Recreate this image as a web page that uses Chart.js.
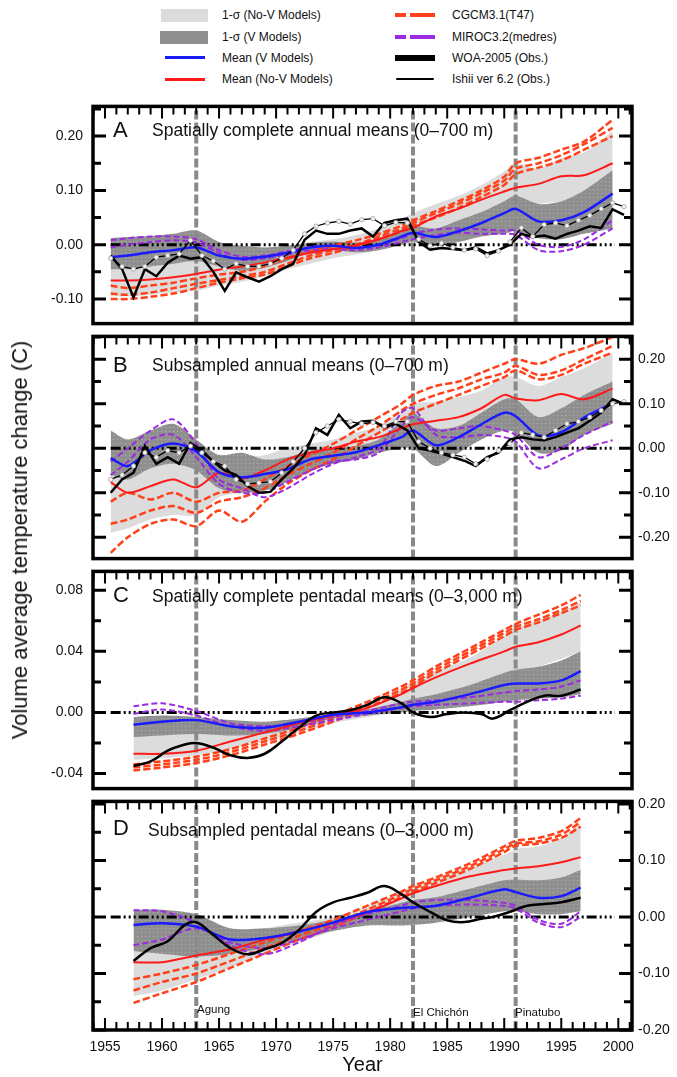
<!DOCTYPE html>
<html>
<head>
<meta charset="utf-8">
<script src="https://cdn.jsdelivr.net/npm/chart.js@4.4.1/dist/chart.umd.min.js"></script>
<style>
  body { margin: 0; background: #fff; }
  #page { position: relative; width: 677px; height: 1077px; overflow: hidden;
          font-family: "Liberation Sans", Arial, sans-serif; color: #111; }
  canvas { position: absolute; left: 0; }
  .lab { position: absolute; transform: translateY(-50%); line-height: 1; white-space: nowrap; font-size: 17.5px; }
  .big { font-size: 22px; }
  .lt { position: absolute; transform: translateY(-50%); line-height: 1; white-space: nowrap; font-size: 12px; }
  .sw { position: absolute; }
  .volc { position: absolute; font-size: 11.5px; line-height: 1; white-space: nowrap; transform: translateY(-50%); }
  #ytitle { position: absolute; left: 20px; top: 540px; font-size: 22px; white-space: nowrap;
            transform: translate(-50%, -50%) rotate(-90deg); }
</style>
</head>
<body>
<div id="page">
  <!-- legend -->
  <div class="sw" style="left:161px;top:9px;width:47px;height:13px;background:#dcdcdc"></div>
  <div class="lt" style="left:222px;top:15px">1-σ (No-V Models)</div>
  <div class="sw" style="left:160px;top:31px;width:48px;height:13px;background:#8f8f8f"></div>
  <div class="lt" style="left:222px;top:37px">1-σ (V Models)</div>
  <div class="sw" style="left:165px;top:56px;width:40px;height:3px;background:#1a1aff"></div>
  <div class="lt" style="left:222px;top:58px">Mean (V Models)</div>
  <div class="sw" style="left:165px;top:78px;width:40px;height:3px;background:#ff1a1a"></div>
  <div class="lt" style="left:222px;top:79px">Mean (No-V Models)</div>

  <div class="sw" style="left:395px;top:13px;width:11px;height:4px;background:#ff4019"></div>
  <div class="sw" style="left:410px;top:13px;width:25px;height:4px;background:#ff4019"></div>
  <div class="lt" style="left:452px;top:15px">CGCM3.1(T47)</div>
  <div class="sw" style="left:395px;top:35px;width:11px;height:4px;background:#9a2be0"></div>
  <div class="sw" style="left:410px;top:35px;width:25px;height:4px;background:#9a2be0"></div>
  <div class="lt" style="left:452px;top:37px">MIROC3.2(medres)</div>
  <div class="sw" style="left:395px;top:55px;width:40px;height:6px;background:#000"></div>
  <div class="lt" style="left:452px;top:58px">WOA-2005 (Obs.)</div>
  <div class="sw" style="left:396px;top:78px;width:38px;height:2px;background:#000;border-radius:2px"></div>
  <div class="lt" style="left:452px;top:79px">Ishii ver 6.2 (Obs.)</div>

  <canvas id="chartA" width="677" height="254" style="top:88px"></canvas>
  <canvas id="chartB" width="677" height="251" style="top:322px"></canvas>
  <canvas id="chartC" width="677" height="254" style="top:553px"></canvas>
  <canvas id="chartD" width="677" height="290" style="top:787px"></canvas>

  <div class="lab big" style="left:113px;top:130px">A</div>
  <div class="lab" style="left:152px;top:131px">Spatially complete annual means (0–700 m)</div>
  <div class="lab big" style="left:113px;top:365px">B</div>
  <div class="lab" style="left:152px;top:366px">Subsampled annual means (0–700 m)</div>
  <div class="lab big" style="left:113px;top:595px">C</div>
  <div class="lab" style="left:152px;top:597px">Spatially complete pentadal means (0–3,000 m)</div>
  <div class="lab big" style="left:113px;top:828px">D</div>
  <div class="lab" style="left:148px;top:831px">Subsampled pentadal means (0–3,000 m)</div>

  <div class="volc" style="left:197px;top:1010px">Agung</div>
  <div class="volc" style="left:413px;top:1013px">El Chichón</div>
  <div class="volc" style="left:515px;top:1013px">Pinatubo</div>

  <div id="ytitle">Volume average temperature change (C)</div>
</div>

<script>
// ---- shared x grids ----
const YEARS_ANNUAL = [1955.5, 1957, 1959, 1961, 1963, 1965, 1967, 1969, 1971, 1973, 1975, 1977,
  1979, 1981, 1982, 1984, 1986, 1988, 1990, 1991, 1993, 1995, 1997, 1999.5];
const YEARS_OBS_ANNUAL = [1955.5, 1956.5, 1957.5, 1958.5, 1959.5, 1960.5, 1961.5, 1962.5, 1963.5,
  1964.5, 1965.5, 1966.5, 1967.5, 1968.5, 1969.5, 1970.5, 1971.5, 1972.5, 1973.5, 1974.5, 1975.5,
  1976.5, 1977.5, 1978.5, 1979.5, 1980.5, 1981.5, 1982.5, 1983.5, 1984.5, 1985.5, 1986.5, 1987.5,
  1988.5, 1989.5, 1990.5, 1991.5, 1992.5, 1993.5, 1994.5, 1995.5, 1996.5, 1997.5, 1998.5, 1999.5, 2000.5];
const YEARS_PENTAD = [1957.5, 1960, 1963, 1966, 1969, 1972, 1975, 1978, 1981, 1982, 1984, 1987,
  1990, 1991, 1993, 1995, 1996.7];
const YEARS_PENTAD_OBS = [1957.5, 1959, 1960.5, 1962, 1963, 1964.5, 1966, 1967.5, 1969, 1970.5,
  1972, 1973.5, 1975, 1976.5, 1978, 1979.5, 1981, 1982, 1983.5, 1985, 1986.5, 1988, 1989, 1990.5,
  1992, 1993.5, 1995, 1996.7];

// ---- tick labels ----
const YEAR_TICKS = [1955, 1960, 1965, 1970, 1975, 1980, 1985, 1990, 1995, 2000];
const TICKS_A = [-0.1, 0, 0.1, 0.2];
const TICKS_B = [-0.2, -0.1, 0, 0.1, 0.2];
const TICKS_C = [-0.04, 0, 0.04, 0.08];
const TICKS_D = [-0.2, -0.1, 0, 0.1, 0.2];

const VOLCANO_YEARS = [1963, 1982, 1991];
const ZERO_SPAN = [1955.5, 1999.7];

// ---- panel A: spatially complete annual, 0-700 m ----
const MEAN_V_A = [-0.023, -0.02, -0.014, -0.01, -0.005, -0.02, -0.026, -0.022, -0.015, -0.005, -0.002, -0.006,
  0.0, 0.015, 0.022, 0.014, 0.025, 0.04, 0.058, 0.066, 0.043, 0.045, 0.06, 0.094];
const MEAN_NOV_A = [-0.066, -0.066, -0.064, -0.06, -0.054, -0.046, -0.04, -0.033, -0.024, -0.015, -0.008, -0.001,
  0.01, 0.025, 0.031, 0.052, 0.066, 0.083, 0.098, 0.105, 0.112, 0.126, 0.128, 0.15];
const NOV_HI_A = [-0.025, -0.025, -0.022, -0.02, -0.015, -0.012, -0.01, -0.008, -0.003, 0.005, 0.01, 0.018,
  0.03, 0.048, 0.058, 0.075, 0.09, 0.11, 0.135, 0.15, 0.14, 0.16, 0.17, 0.21];
const NOV_LO_A = [-0.095, -0.095, -0.092, -0.088, -0.085, -0.075, -0.068, -0.058, -0.045, -0.035, -0.025, -0.018,
  -0.01, 0.0, 0.005, 0.025, 0.04, 0.055, 0.065, 0.07, 0.075, 0.08, 0.085, 0.09];
const V_HI_A = [0.012, 0.014, 0.016, 0.02, 0.026, 0.005, -0.002, -0.005, -0.002, 0.003, 0.006, 0.004,
  0.01, 0.028, 0.035, 0.03, 0.045, 0.06, 0.08, 0.09, 0.075, 0.08, 0.1, 0.137];
const V_LO_A = [-0.045, -0.045, -0.04, -0.035, -0.03, -0.04, -0.048, -0.042, -0.03, -0.015, -0.01, -0.014,
  -0.01, 0.0, 0.005, -0.002, 0.005, 0.015, 0.02, 0.025, 0.012, 0.01, 0.02, 0.03];
const CGCM_A1 = [-0.075, -0.08, -0.075, -0.07, -0.062, -0.055, -0.05, -0.04, -0.025, -0.012, -0.002, 0.008,
  0.02, 0.035, 0.045, 0.062, 0.08, 0.1, 0.125, 0.15, 0.16, 0.175, 0.19, 0.23];
const CGCM_A2 = [-0.09, -0.092, -0.088, -0.08, -0.072, -0.065, -0.058, -0.05, -0.035, -0.02, -0.01, 0.0,
  0.015, 0.03, 0.04, 0.058, 0.075, 0.095, 0.118, 0.14, 0.15, 0.165, 0.185, 0.215];
const CGCM_A3 = [-0.1, -0.1, -0.096, -0.09, -0.08, -0.07, -0.062, -0.055, -0.04, -0.025, -0.015, -0.003,
  0.01, 0.025, 0.035, 0.05, 0.068, 0.088, 0.11, 0.13, 0.142, 0.155, 0.175, 0.2];
const MIROC_A1 = [0.008, 0.012, 0.015, 0.015, 0.01, -0.01, -0.022, -0.02, -0.012, -0.004, -0.002, -0.006,
  0.0, 0.012, 0.02, 0.028, 0.03, 0.028, 0.026, 0.026, 0.0, -0.004, 0.01, 0.045];
const MIROC_A2 = [-0.005, 0.0, 0.005, 0.008, 0.004, -0.015, -0.028, -0.025, -0.018, -0.01, -0.008, -0.01,
  -0.005, 0.005, 0.01, 0.018, 0.022, 0.02, 0.02, 0.018, -0.01, -0.012, 0.0, 0.03];
const WOA_A = [-0.02, -0.045, -0.097, -0.045, -0.058, -0.033, -0.02, -0.026, -0.023, -0.05, -0.085, -0.051,
  -0.06, -0.068, -0.058, -0.045, -0.035, 0.009, 0.026, 0.02, 0.02, 0.026, 0.03, 0.015, 0.04, 0.045, 0.048,
  0.005, -0.009, -0.006, -0.008, -0.01, -0.005, -0.016, -0.01, 0.0, 0.02, 0.014, 0.017, 0.011, 0.02, 0.026,
  0.034, 0.031, 0.065, 0.055];
const ISHII_A = [-0.025, -0.04, -0.045, -0.04, -0.023, -0.02, -0.017, 0.008, -0.02, -0.03, -0.045, -0.035,
  -0.04, -0.04, -0.035, -0.025, -0.01, 0.02, 0.034, 0.04, 0.043, 0.038, 0.046, 0.048, 0.035, 0.041, 0.04,
  0.01, -0.002, 0.003, -0.005, -0.01, -0.008, -0.02, -0.012, 0.005, 0.031, 0.015, 0.037, 0.04, 0.035, 0.045,
  0.054, 0.066, 0.077, 0.07];

// ---- panel B: subsampled annual, 0-700 m ----
const MEAN_V_B = [-0.022, -0.04, -0.004, 0.011, -0.007, -0.054, -0.065, -0.058, -0.047, -0.025, -0.017, -0.009,
  0.007, 0.025, 0.04, 0.007, 0.025, 0.054, 0.08, 0.072, 0.029, 0.036, 0.069, 0.101];
const MEAN_NOV_B = [-0.076, -0.1, -0.085, -0.07, -0.088, -0.055, -0.068, -0.05, -0.025, -0.01, 0.0, 0.015,
  0.025, 0.045, 0.054, 0.062, 0.07, 0.09, 0.12, 0.112, 0.108, 0.122, 0.11, 0.134];
const NOV_HI_B = [-0.02, -0.03, -0.02, -0.01, -0.03, -0.015, -0.02, -0.015, 0.0, 0.01, 0.02, 0.035,
  0.05, 0.085, 0.1, 0.105, 0.115, 0.13, 0.16, 0.16, 0.14, 0.16, 0.18, 0.215];
const NOV_LO_B = [-0.19, -0.18, -0.16, -0.15, -0.15, -0.11, -0.1, -0.085, -0.06, -0.04, -0.03, -0.015,
  -0.005, 0.01, 0.015, 0.02, 0.03, 0.045, 0.06, 0.065, 0.06, 0.06, 0.06, 0.06];
const V_HI_B = [0.04, 0.02, 0.04, 0.055, 0.02, -0.015, -0.01, -0.025, -0.02, -0.005, 0.0, 0.005,
  0.02, 0.06, 0.08, 0.045, 0.05, 0.08, 0.11, 0.11, 0.07, 0.09, 0.12, 0.15];
const V_LO_B = [-0.06, -0.07, -0.045, -0.035, -0.05, -0.09, -0.1, -0.095, -0.075, -0.05, -0.035, -0.025,
  -0.01, 0.0, 0.0, -0.04, -0.01, 0.02, 0.04, 0.035, -0.01, -0.005, 0.03, 0.055];
const CGCM_B1 = [-0.12, -0.1, -0.115, -0.1, -0.12, -0.1, -0.095, -0.07, -0.04, -0.015, 0.01, 0.04,
  0.07, 0.1, 0.12, 0.14, 0.15, 0.17, 0.19, 0.2, 0.19, 0.21, 0.225, 0.25];
const CGCM_B2 = [-0.17, -0.16, -0.14, -0.13, -0.145, -0.12, -0.11, -0.09, -0.06, -0.035, -0.01, 0.02,
  0.05, 0.085, 0.1, 0.12, 0.135, 0.155, 0.17, 0.185, 0.165, 0.175, 0.2, 0.23];
const CGCM_B3 = [-0.235, -0.2, -0.17, -0.16, -0.175, -0.14, -0.165, -0.12, -0.08, -0.05, -0.025, 0.005,
  0.035, 0.065, 0.08, 0.1, 0.12, 0.14, 0.16, 0.175, 0.155, 0.165, 0.19, 0.215];
const MIROC_B1 = [-0.03, 0.0, 0.04, 0.065, 0.01, -0.07, -0.09, -0.11, -0.09, -0.06, -0.035, -0.02,
  0.0, 0.08, 0.09, 0.03, 0.025, 0.03, 0.025, 0.015, -0.045, -0.025, 0.0, 0.018];
const MIROC_B2 = [-0.06, -0.03, 0.02, 0.03, -0.02, -0.08, -0.1, -0.1, -0.075, -0.05, -0.03, -0.025,
  -0.01, 0.05, 0.07, 0.04, 0.045, 0.05, 0.04, 0.03, -0.02, 0.0, 0.03, 0.06];
const WOA_B = [-0.1, -0.07, -0.055, 0.005, -0.035, -0.02, -0.035, 0.012, -0.005, -0.03, -0.05, -0.06,
  -0.085, -0.1, -0.098, -0.07, -0.045, -0.015, 0.045, 0.03, 0.075, 0.045, 0.06, 0.062, 0.047, 0.055, 0.04,
  0.0, -0.005, -0.012, -0.02, -0.028, -0.04, -0.02, -0.01, 0.02, 0.025, 0.02, 0.018, 0.025, 0.035, 0.045,
  0.062, 0.08, 0.11, 0.1];
const ISHII_B = [-0.07, -0.06, -0.04, -0.01, -0.02, -0.005, -0.01, 0.005, -0.01, -0.03, -0.04, -0.07,
  -0.08, -0.078, -0.075, -0.055, -0.03, 0.0, 0.035, 0.05, 0.065, 0.06, 0.055, 0.058, 0.05, 0.06, 0.06,
  0.015, 0.0, -0.01, -0.015, -0.02, -0.035, -0.025, -0.005, 0.01, 0.035, 0.03, 0.025, 0.04, 0.055, 0.06,
  0.07, 0.085, 0.1, 0.105];

// ---- panel C: spatially complete pentadal, 0-3000 m ----
const MEAN_V_C = [-0.008, -0.006, -0.005, -0.009, -0.01, -0.006, -0.0015, 0.0, 0.0035, 0.005, 0.007, 0.012,
  0.018, 0.019, 0.019, 0.021, 0.027];
const MEAN_NOV_C = [-0.027, -0.027, -0.025, -0.019, -0.013, -0.007, -0.002, 0.003, 0.012, 0.016, 0.023, 0.032,
  0.04, 0.043, 0.046, 0.051, 0.057];
const NOV_HI_C = [-0.005, -0.003, -0.003, -0.006, -0.007, -0.004, 0.0, 0.005, 0.015, 0.02, 0.027, 0.036,
  0.05, 0.055, 0.06, 0.066, 0.072];
const NOV_LO_C = [-0.031, -0.03, -0.028, -0.024, -0.019, -0.013, -0.007, -0.003, 0.002, 0.004, 0.008, 0.013,
  0.02, 0.023, 0.03, 0.035, 0.04];
const V_HI_C = [-0.003, -0.002, -0.003, -0.005, -0.006, -0.004, -0.001, 0.002, 0.007, 0.009, 0.012, 0.018,
  0.026, 0.028, 0.03, 0.034, 0.04];
const V_LO_C = [-0.016, -0.015, -0.014, -0.015, -0.014, -0.01, -0.004, -0.002, 0.0, 0.001, 0.002, 0.004,
  0.007, 0.008, 0.009, 0.01, 0.012];
const CGCM_C1 = [-0.034, -0.032, -0.029, -0.024, -0.017, -0.01, -0.002, 0.007, 0.017, 0.021, 0.03, 0.042,
  0.054, 0.058, 0.064, 0.07, 0.077];
const CGCM_C2 = [-0.036, -0.034, -0.031, -0.026, -0.019, -0.012, -0.004, 0.005, 0.015, 0.019, 0.028, 0.04,
  0.052, 0.056, 0.061, 0.067, 0.073];
const CGCM_C3 = [-0.038, -0.036, -0.033, -0.028, -0.021, -0.014, -0.006, 0.003, 0.013, 0.017, 0.026, 0.038,
  0.05, 0.054, 0.059, 0.065, 0.07];
const MIROC_C1 = [0.004, 0.006, 0.001, -0.007, -0.009, -0.007, -0.003, 0.001, 0.006, 0.007, 0.008, 0.01,
  0.013, 0.014, 0.015, 0.017, 0.021];
const MIROC_C2 = [-0.001, 0.002, -0.002, -0.009, -0.012, -0.009, -0.005, -0.001, 0.003, 0.004, 0.005, 0.006,
  0.007, 0.007, 0.008, 0.009, 0.011];
const WOA_C = [-0.035, -0.032, -0.025, -0.021, -0.02, -0.023, -0.028, -0.0297, -0.027, -0.019, -0.01, -0.002,
  0.0, 0.0015, 0.005, 0.01, 0.006, 0.0, -0.003, -0.001, 0.0, -0.001, -0.004, 0.0015, 0.007, 0.011, 0.011, 0.015];

// ---- panel D: subsampled pentadal, 0-3000 m ----
const MEAN_V_D = [-0.014, -0.011, -0.017, -0.04, -0.037, -0.026, -0.01, 0.009, 0.016, 0.017, 0.02, 0.034,
  0.049, 0.044, 0.034, 0.037, 0.052];
const MEAN_NOV_D = [-0.08, -0.08, -0.068, -0.057, -0.04, -0.025, -0.01, 0.008, 0.033, 0.042, 0.055, 0.072,
  0.083, 0.086, 0.09, 0.097, 0.106];
const NOV_HI_D = [-0.03, -0.03, -0.03, -0.03, -0.02, -0.01, 0.0, 0.02, 0.045, 0.055, 0.07, 0.09,
  0.11, 0.12, 0.125, 0.14, 0.165];
const NOV_LO_D = [-0.14, -0.13, -0.11, -0.09, -0.065, -0.045, -0.025, -0.005, 0.01, 0.015, 0.025, 0.04,
  0.055, 0.06, 0.06, 0.065, 0.075];
const V_HI_D = [0.013, 0.013, 0.005, -0.02, -0.02, -0.015, -0.005, 0.01, 0.025, 0.03, 0.035, 0.05,
  0.065, 0.066, 0.065, 0.07, 0.083];
const V_LO_D = [-0.06, -0.065, -0.07, -0.065, -0.055, -0.04, -0.025, -0.015, -0.015, -0.014, -0.01, 0.0,
  0.01, 0.01, 0.005, 0.005, 0.01];
const CGCM_D1 = [-0.11, -0.1, -0.085, -0.065, -0.045, -0.025, -0.005, 0.02, 0.045, 0.055, 0.07, 0.095,
  0.125, 0.135, 0.14, 0.152, 0.175];
const CGCM_D2 = [-0.13, -0.115, -0.1, -0.078, -0.055, -0.033, -0.012, 0.013, 0.04, 0.05, 0.065, 0.09,
  0.12, 0.13, 0.134, 0.146, 0.168];
const CGCM_D3 = [-0.152, -0.135, -0.115, -0.09, -0.065, -0.04, -0.018, 0.008, 0.035, 0.045, 0.06, 0.085,
  0.115, 0.126, 0.13, 0.14, 0.16];
const MIROC_D1 = [0.012, 0.01, -0.01, -0.05, -0.066, -0.045, -0.015, 0.005, 0.02, 0.026, 0.03, 0.03,
  0.025, 0.02, -0.005, -0.012, 0.01];
const MIROC_D2 = [-0.05, -0.04, -0.02, -0.045, -0.055, -0.04, -0.02, -0.005, 0.01, 0.015, 0.02, 0.022,
  0.02, 0.015, -0.01, -0.018, 0.0];
const WOA_D = [-0.078, -0.055, -0.043, -0.014, -0.009, -0.032, -0.055, -0.066, -0.057, -0.046, -0.023, 0.009,
  0.026, 0.034, 0.043, 0.055, 0.04, 0.026, 0.009, -0.006, -0.009, -0.003, 0.0, 0.009, 0.02, 0.023, 0.026, 0.034];

const X_MIN = 1953.95;
const X_MAX = 2001.2;
const INK = '#111';
const FONT = '"Liberation Sans", Arial, sans-serif';

Chart.defaults.font.family = FONT;
Chart.defaults.color = INK;

const pts = (xs, ys) => xs.map((x, i) => ({ x, y: ys[i] }));
const asTicks = (vals) => vals.map((value) => ({ value }));

// grey with faint light dots, like the stippled V-model band
function dotPattern() {
  const c = document.createElement('canvas');
  c.width = 4; c.height = 4;
  const g = c.getContext('2d');
  g.fillStyle = '#8f8f8f';
  g.fillRect(0, 0, 4, 4);
  g.fillStyle = '#b4b4b4';
  g.fillRect(1, 1, 1, 1);
  return g.createPattern(c, 'repeat');
}
const DARK_BAND = dotPattern();

// panel frame plus inward ticks on all sides
const frameTicks = {
  id: 'frameTicks',
  afterDraw(chart, args, opts) {
    const { ctx, chartArea: a } = chart;
    const xs = chart.scales.x;
    const ys = chart.scales.y;
    ctx.save();
    ctx.strokeStyle = '#000';
    ctx.lineWidth = 2;
    ctx.beginPath();
    for (let yr = Math.ceil(xs.min); yr <= xs.max; yr++) {
      const px = xs.getPixelForValue(yr);
      const len = yr % 5 === 0 ? 12 : 8;
      ctx.moveTo(px, a.top);
      ctx.lineTo(px, a.top + len);
      if (opts.bottomTicks) {
        ctx.moveTo(px, a.bottom);
        ctx.lineTo(px, a.bottom - len);
      }
    }
    ctx.stroke();
    ctx.lineWidth = 3;
    ctx.beginPath();
    const k0 = Math.ceil(ys.min / opts.minor - 1e-6);
    const k1 = Math.floor(ys.max / opts.minor + 1e-6);
    for (let k = k0; k <= k1; k++) {
      const py = ys.getPixelForValue(k * opts.minor);
      const len = k % 2 === 0 ? 13 : 8;
      ctx.moveTo(a.left, py);
      ctx.lineTo(a.left + len, py);
      ctx.moveTo(a.right, py);
      ctx.lineTo(a.right - len, py);
    }
    ctx.stroke();
    ctx.lineWidth = 3.5;
    ctx.strokeRect(a.left, a.top, a.right - a.left, a.bottom - a.top);
    ctx.restore();
  }
};

const fmt = (v) => (Math.abs(v) < 1e-9 ? '0.00' : v.toFixed(2));

const PANELS = [
  { id: 'chartA', min: -0.1453, max: 0.2547, ticks: TICKS_A, minor: 0.05, side: 'left',
    years: YEARS_ANNUAL, obsYears: YEARS_OBS_ANNUAL, obsTension: 0,
    meanV: MEAN_V_A, meanNoV: MEAN_NOV_A, noVHi: NOV_HI_A, noVLo: NOV_LO_A, vHi: V_HI_A, vLo: V_LO_A,
    cgcm: [CGCM_A1, CGCM_A2, CGCM_A3], miroc: [MIROC_A1, MIROC_A2], woa: WOA_A, ishii: ISHII_A },
  { id: 'chartB', min: -0.248, max: 0.2515, ticks: TICKS_B, minor: 0.05, side: 'right',
    years: YEARS_ANNUAL, obsYears: YEARS_OBS_ANNUAL, obsTension: 0,
    meanV: MEAN_V_B, meanNoV: MEAN_NOV_B, noVHi: NOV_HI_B, noVLo: NOV_LO_B, vHi: V_HI_B, vLo: V_LO_B,
    cgcm: [CGCM_B1, CGCM_B2, CGCM_B3], miroc: [MIROC_B1, MIROC_B2], woa: WOA_B, ishii: ISHII_B },
  { id: 'chartC', min: -0.0498, max: 0.0923, ticks: TICKS_C, minor: 0.02, side: 'left',
    years: YEARS_PENTAD, obsYears: YEARS_PENTAD_OBS, obsTension: 0.4,
    meanV: MEAN_V_C, meanNoV: MEAN_NOV_C, noVHi: NOV_HI_C, noVLo: NOV_LO_C, vHi: V_HI_C, vLo: V_LO_C,
    cgcm: [CGCM_C1, CGCM_C2, CGCM_C3], miroc: [MIROC_C1, MIROC_C2], woa: WOA_C, ishii: null },
  { id: 'chartD', min: -0.2, max: 0.2046, ticks: TICKS_D, minor: 0.05, side: 'right', bottom: true,
    years: YEARS_PENTAD, obsYears: YEARS_PENTAD_OBS, obsTension: 0.4,
    meanV: MEAN_V_D, meanNoV: MEAN_NOV_D, noVHi: NOV_HI_D, noVLo: NOV_LO_D, vHi: V_HI_D, vLo: V_LO_D,
    cgcm: [CGCM_D1, CGCM_D2, CGCM_D3], miroc: [MIROC_D1, MIROC_D2], woa: WOA_D, ishii: null }
];

// lower `order` draws on top
function buildDatasets(p) {
  const yrs = p.years;
  const ds = [
    { data: pts(yrs, p.noVHi), fill: '+1', backgroundColor: '#dcdcdc', borderWidth: 0, order: 100 },
    { data: pts(yrs, p.noVLo), fill: false, borderWidth: 0, order: 99 },
    { data: pts(yrs, p.vHi), fill: '+1', backgroundColor: DARK_BAND, borderWidth: 0, order: 98 },
    { data: pts(yrs, p.vLo), fill: false, borderWidth: 0, order: 97 }
  ];
  VOLCANO_YEARS.forEach((yr) => {
    ds.push({ data: [{ x: yr, y: p.min }, { x: yr, y: p.max }], borderColor: '#8a8a8a',
      borderWidth: 4, borderDash: [9, 3], tension: 0, order: 90 });
  });
  ds.push({ data: ZERO_SPAN.map((x) => ({ x, y: 0 })), borderColor: '#000', borderWidth: 3,
    borderDash: [10, 3, 2, 3, 2, 3, 2, 3], tension: 0, order: 85 });
  p.cgcm.forEach((s) => {
    ds.push({ data: pts(yrs, s), borderColor: '#ff4019', borderWidth: 2.5, borderDash: [7, 3], order: 80 });
  });
  p.miroc.forEach((s) => {
    ds.push({ data: pts(yrs, s), borderColor: '#9a2be0', borderWidth: 2, borderDash: [6, 3], order: 70 });
  });
  ds.push({ data: pts(yrs, p.meanNoV), borderColor: '#ff1a1a', borderWidth: 2, order: 30 });
  ds.push({ data: pts(yrs, p.meanV), borderColor: '#1a1aff', borderWidth: 2.5, order: 20 });
  ds.push({ data: pts(p.obsYears, p.woa), borderColor: '#000', borderWidth: 2.5,
    tension: p.obsTension, order: 10 });
  if (p.ishii) {
    ds.push({ data: pts(p.obsYears, p.ishii), borderColor: '#000', borderWidth: 1.3, tension: 0,
      pointRadius: 2.2, pointBackgroundColor: '#f2f2f2', pointBorderColor: '#a0a0a0',
      pointBorderWidth: 0.8, order: 5 });
  }
  return ds;
}

function yScale(p, position) {
  const shown = p.side === position;
  return {
    type: 'linear',
    position,
    min: p.min,
    max: p.max,
    grid: { display: false, drawTicks: false },
    border: { display: false },
    afterBuildTicks: (s) => { s.ticks = asTicks(p.ticks); },
    ticks: {
      display: shown,
      padding: position === 'left' ? 10 : 6,
      font: { size: 14 },
      color: INK,
      callback: fmt
    },
    afterFit: (s) => { s.width = position === 'left' ? 93 : 45; }
  };
}

PANELS.forEach((p) => {
  new Chart(document.getElementById(p.id), {
    type: 'line',
    data: { datasets: buildDatasets(p) },
    plugins: [frameTicks],
    options: {
      responsive: false,
      animation: false,
      devicePixelRatio: 1,
      parsing: false,
      layout: { padding: { top: 10, bottom: p.bottom ? 0 : 10, left: 0, right: 0 } },
      elements: { point: { radius: 0 }, line: { tension: 0.3 } },
      plugins: {
        legend: { display: false },
        tooltip: { enabled: false },
        filler: { propagate: false },
        frameTicks: { minor: p.minor, bottomTicks: !!p.bottom }
      },
      scales: {
        x: {
          type: 'linear',
          min: X_MIN,
          max: X_MAX,
          display: !!p.bottom,
          grid: { display: false, drawTicks: false },
          border: { display: false },
          afterBuildTicks: (s) => { s.ticks = asTicks(YEAR_TICKS); },
          ticks: { padding: 9, maxRotation: 0, autoSkip: false,
            font: { size: 14 }, color: INK, callback: (v) => String(v) },
          title: { display: true, text: 'Year', font: { size: 20 }, color: INK, padding: { top: 0, bottom: 0 } },
          // only the bottom panel keeps room for year labels
          afterFit: (s) => { s.height = p.bottom ? 47 : 0; }
        },
        y: yScale(p, 'left'),
        yR: yScale(p, 'right')
      }
    }
  });
});
</script>
</body>
</html>
